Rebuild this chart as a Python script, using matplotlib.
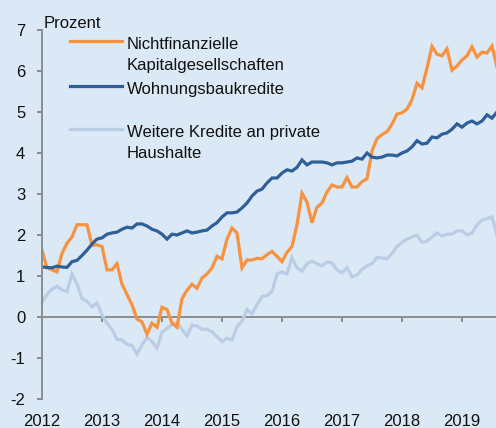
import matplotlib.pyplot as plt
from matplotlib.lines import Line2D
import pandas as pd

# monthly growth rates, Jan 2012 - Aug 2019 (Prozent)
start = '2012-01'
years = list(range(2012, 2020))
yticks = list(range(-2, 8))

nfc = [1.63, 1.2, 1.15, 1.1, 1.55, 1.8, 1.95, 2.25, 2.25, 2.25,
       1.75, 1.76, 1.72, 1.15, 1.15, 1.3, 0.8, 0.55, 0.3, -0.05,
       -0.12, -0.42, -0.15, -0.25, 0.24, 0.18, -0.15, -0.25, 0.45, 0.65,
       0.8, 0.7, 0.95, 1.05, 1.2, 1.48, 1.42, 1.9, 2.17, 2.05,
       1.2, 1.39, 1.39, 1.43, 1.42, 1.52, 1.6, 1.48, 1.35, 1.58,
       1.72, 2.25, 3.02, 2.8, 2.3, 2.68, 2.78, 3.05, 3.22, 3.17,
       3.17, 3.4, 3.17, 3.17, 3.3, 3.37, 4.05, 4.35, 4.45, 4.52,
       4.7, 4.95, 4.98, 5.07, 5.3, 5.7, 5.59, 6.07, 6.6, 6.41,
       6.37, 6.54, 6.02, 6.12, 6.27, 6.37, 6.59, 6.34, 6.46, 6.44,
       6.61, 6.1]

housing = [1.22, 1.21, 1.2, 1.24, 1.22, 1.21, 1.35, 1.38, 1.5, 1.63,
           1.78, 1.9, 1.93, 2.02, 2.05, 2.07, 2.14, 2.19, 2.17, 2.27,
           2.27, 2.22, 2.14, 2.1, 2.02, 1.9, 2.02, 2.0, 2.05, 2.1,
           2.05, 2.07, 2.1, 2.12, 2.22, 2.3, 2.44, 2.54, 2.54, 2.56,
           2.66, 2.78, 2.95, 3.07, 3.12, 3.27, 3.39, 3.39, 3.51, 3.59,
           3.56, 3.65, 3.83, 3.71, 3.78, 3.78, 3.78, 3.76, 3.71, 3.76,
           3.76, 3.78, 3.8, 3.88, 3.85, 4.0, 3.9, 3.88, 3.9, 3.95,
           3.95, 3.93, 4.0, 4.05, 4.15, 4.3, 4.22, 4.24, 4.39, 4.37,
           4.46, 4.49, 4.58, 4.71, 4.63, 4.73, 4.78, 4.71, 4.78, 4.93,
           4.85, 5.0]

other_hh = [0.35, 0.55, 0.68, 0.75, 0.66, 0.62, 1.05, 0.8, 0.45, 0.38,
            0.25, 0.34, 0.05, -0.15, -0.3, -0.55, -0.56, -0.67, -0.7, -0.9,
            -0.68, -0.5, -0.6, -0.76, -0.37, -0.28, -0.18, -0.13, -0.3, -0.46,
            -0.2, -0.22, -0.3, -0.3, -0.36, -0.48, -0.6, -0.52, -0.56, -0.24,
            -0.1, 0.18, 0.08, 0.3, 0.5, 0.52, 0.62, 1.05, 1.1, 1.05,
            1.45, 1.2, 1.12, 1.3, 1.36, 1.3, 1.25, 1.34, 1.32, 1.15,
            1.08, 1.2, 0.98, 1.02, 1.16, 1.25, 1.3, 1.45, 1.44, 1.42,
            1.55, 1.72, 1.82, 1.9, 1.95, 2.0, 1.82, 1.85, 1.95, 2.05,
            1.98, 2.02, 2.02, 2.1, 2.1, 2.0, 2.05, 2.25, 2.36, 2.4,
            2.44, 2.0]

labels = ['Nichtfinanzielle\nKapitalgesellschaften', 'Wohnungsbaukredite',
          'Weitere Kredite an private\nHaushalte']

bg = '#dbe8f5'
c_orange = '#f7923f'
c_dark = '#2f5f98'
c_light = '#b9cde5'
grey = '#8c8c8c'

plt.rcParams['font.family'] = ['Liberation Sans', 'DejaVu Sans']
plt.rcParams['axes.unicode_minus'] = False

dates = pd.date_range(start, periods=len(nfc), freq='MS')
x = dates.year + (dates.month - 1) / 12

W, H = 496, 428
fig = plt.figure(figsize=(W / 100, H / 100), dpi=100, facecolor=bg)
ax = fig.add_axes([42 / W, 1 - 399 / H, 1 - 42 / W, (399 - 30) / H])
ax.set_facecolor(bg)

ax.plot(x, other_hh, color=c_light, lw=2.3, solid_joinstyle='miter')
ax.plot(x, nfc, color=c_orange, lw=2.3, solid_joinstyle='miter')
ax.plot(x, housing, color=c_dark, lw=2.3, solid_joinstyle='miter')

ax.set_xlim(2012, 2012 + (W - 42) / 60)
ax.set_ylim(-2, 7)
ax.set_xticks(years)
ax.set_yticks(yticks)

for s in ['top', 'right']:
    ax.spines[s].set_visible(False)
ax.spines['bottom'].set_position(('data', 0))
ax.spines['bottom'].set_color(grey)
ax.spines['left'].set_color(grey)
ax.spines['bottom'].set_linewidth(1.4)
ax.spines['left'].set_linewidth(1.4)
ax.spines['bottom'].set_zorder(1)

ax.tick_params(axis='x', direction='out', length=3.6, width=1.4, color=grey,
               labelsize=12, pad=66, labelcolor='#111111')
ax.tick_params(axis='y', direction='out', length=3.6, width=1.4, color=grey,
               labelsize=12, pad=8.5, labelcolor='#111111')

fig.text(44 / W, 1 - 28 / H, 'Prozent', fontsize=12, color='#111111',
         va='baseline', ha='left')

# legend drawn by hand so the key line sits on the first text line
leg_y = [41, 86, 129]
leg_colors = [c_orange, c_dark, c_light]
for yy, col, lab in zip(leg_y, leg_colors, labels):
    fy = 1 - yy / H
    fig.add_artist(Line2D([70 / W, 122 / W], [fy, fy], color=col, lw=2.3,
                          transform=fig.transFigure))
    fig.text(127 / W, 1 - (yy - 4) / H, lab, fontsize=12, color='#111111',
             va='top', ha='left', linespacing=1.5)

fig.savefig('out.png', dpi=100, facecolor=bg)
